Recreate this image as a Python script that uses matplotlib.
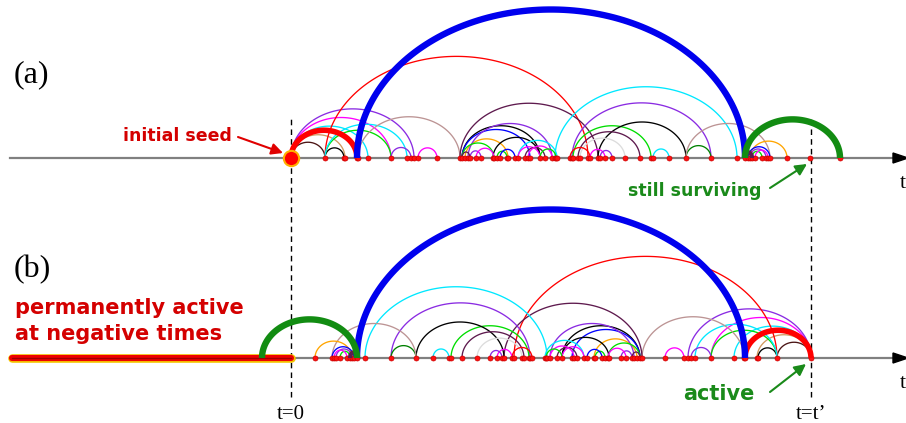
import numpy as np
import matplotlib
matplotlib.use("Agg")
import matplotlib.pyplot as plt

# time units: t = 0 at the initial seed, t = t' at the observation time
T_PRIME = 520
T_MIN, T_MAX = -291, 615

# thin arcs of panel (a): start time, end time
arc_start = [0, 0, 0, 0, 0, 34, 34, 34, 34, 67, 100, 127, 169, 171, 171, 174,
             177, 171, 179, 202, 227, 227, 234, 264, 281, 282, 307, 289, 287,
             279, 362, 395, 395, 459, 457, 459, 461, 464, 171, 185, 206, 209,
             237, 249, 299, 309]
arc_end = [34, 54, 77, 100, 123, 53, 100, 297, 116, 169, 120, 146, 307, 249,
           239, 217, 261, 203, 190, 249, 266, 249, 254, 446, 420, 360, 395,
           334, 349, 299, 378, 420, 479, 496, 479, 475, 471, 477, 179, 203,
           216, 224, 261, 265, 314, 321]
arc_color = ["#4a1414", "#d09a60", "#00e8ff", "#ff00ff", "#8a2be2", "black",
             "#00dd00", "#ff0000", "#00e8ff", "#bc9494", "#8a2be2", "#ff00ff",
             "#5e1a4e", "black", "#0000ff", "#ffa500", "#8a2be2", "#00dd00",
             "#8a2be2", "black", "#00e8ff", "#ff00ff", "#5e1a4e", "#00e8ff",
             "#8a2be2", "#00dd00", "black", "#dcdcdc", "#5e1a4e", "#ff0000",
             "#00e8ff", "#008000", "#bc9494", "#ffa500", "#0000ff", "#8a2be2",
             "#00dd00", "#ff00ff", "#5e1a4e", "#ff00ff", "#00dd00", "#0000ff",
             "#ff00ff", "#00dd00", "#ff00ff", "#8a2be2"]

# thick arcs (main lineage)
thick_start = [454, 0, 66, 454]
thick_end = [461, 66, 454, 549]
thick_color = ["#5e1a4e", "#ff0000", "#0000ee", "#128c12"]
thick_lw = [3.0, 4.0, 4.6, 4.6]

# isolated events in panel (a)
extra_dots = [519]

BASE_A = 265
BASE_B = 65
RED_TXT = "#d40000"
GREEN_TXT = "#1a8a1a"


def arc(ax, s, e, base, **kw):
    c = 0.5 * (s + e)
    r = 0.5 * abs(e - s)
    h = 0.75 * r + 3
    th = np.linspace(0, np.pi, 120)
    ax.plot(c + r * np.cos(th), base + h * np.sin(th), solid_capstyle='butt', **kw)


def draw_panel(ax, base, starts, ends, tstarts, tends, dots):
    # time axis
    ax.plot([-281, 604], [base, base], color="#808080", lw=1.6, zorder=1)
    ax.fill([602, 617, 602], [base + 5, base, base - 5], color="black", zorder=2)
    for s, e, col in zip(starts, ends, arc_color):
        arc(ax, s, e, base, color=col, lw=0.95, zorder=3)
    for s, e, col, lw in zip(tstarts, tends, thick_color, thick_lw):
        arc(ax, s, e, base, color=col, lw=lw, zorder=5)
    ax.plot(dots, [base] * len(dots), 'o', color="#ff1010", ms=3.6,
            mec="#cc0000", mew=0.5, zorder=4)


fig = plt.figure(figsize=(9.06, 4.23), dpi=100)
ax = fig.add_axes([0, 0, 1, 1])
ax.set_xlim(T_MIN, T_MAX)
ax.set_ylim(0, 423)
ax.axis('off')

# panel (a): forward in time from the seed
dots_a = sorted(set([t for t in arc_start + arc_end + thick_start + thick_end if t > 0] + extra_dots))
draw_panel(ax, BASE_A, arc_start, arc_end, thick_start, thick_end, dots_a)
ax.plot([0], [BASE_A], 'o', ms=11, color="#ff0000", mec="#ffb000", mew=1.5, zorder=6)

# panel (b): same history seen backwards from t'
b_start = [T_PRIME - e for e in arc_end]
b_end = [T_PRIME - s for s in arc_start]
bt_start = [T_PRIME - e for e in thick_end]
bt_end = [T_PRIME - s for s in thick_start]
dots_b = sorted(set([T_PRIME - t for t in dots_a if T_PRIME - t >= 0] + [T_PRIME]))
draw_panel(ax, BASE_B, b_start, b_end, bt_start, bt_end, dots_b)
# permanently active bar
ax.plot([-279, 0], [BASE_B, BASE_B], color="#f5c400", lw=6.2, solid_capstyle='round', zorder=4.5)
ax.plot([-279, 0], [BASE_B, BASE_B], color="#ee0000", lw=4.4, solid_capstyle='round', zorder=4.6)
ax.plot([-279, 0], [BASE_B, BASE_B], color="#a00000", lw=1.0, solid_capstyle='round', zorder=4.7)

# dashed time markers
for t in [0, T_PRIME]:
    ax.plot([t, t], [26, 305], color="black", lw=1.0, dashes=(4, 3), zorder=2)

serif = "Liberation Serif"
ax.text(-277, 348, "(a)", fontsize=23, family=serif, va='center', ha='left')
ax.text(-277, 153, "(b)", fontsize=23, family=serif, va='center', ha='left')
ax.text(612, 235, "t", fontsize=16, family=serif, ha='center', va='baseline')
ax.text(612, 35, "t", fontsize=16, family=serif, ha='center', va='baseline')
ax.text(0, 4, "t=0", fontsize=15, family=serif, ha='center', va='baseline')
ax.text(T_PRIME, 4, "t=t\u2019", fontsize=15, family=serif, ha='center', va='baseline')

bold = dict(family="DejaVu Sans", weight='bold', va='baseline')
ax.text(-59, 282, "initial seed", fontsize=12.5, color=RED_TXT, ha='right', **bold)
ax.text(471, 227, "still surviving", fontsize=12.5, color=GREEN_TXT, ha='right', **bold)
ax.text(-276, 109, "permanently active", fontsize=15, color=RED_TXT, ha='left', **bold)
ax.text(-276, 83, "at negative times", fontsize=15, color=RED_TXT, ha='left', **bold)
ax.text(392, 23, "active", fontsize=15, color=GREEN_TXT, ha='left', **bold)

arrow = dict(arrowstyle='-|>', lw=1.5, mutation_scale=17, shrinkA=0, shrinkB=0)
ax.annotate("", xy=(-8, 270), xytext=(-53, 286),
            arrowprops=dict(color="#e00000", **arrow), zorder=7)
ax.annotate("", xy=(516, 259), xytext=(479, 235),
            arrowprops=dict(color="#1a8a1a", **arrow), zorder=7)
ax.annotate("", xy=(515, 59), xytext=(479, 31),
            arrowprops=dict(color="#1a8a1a", **arrow), zorder=7)

fig.savefig("out.png", dpi=100)
